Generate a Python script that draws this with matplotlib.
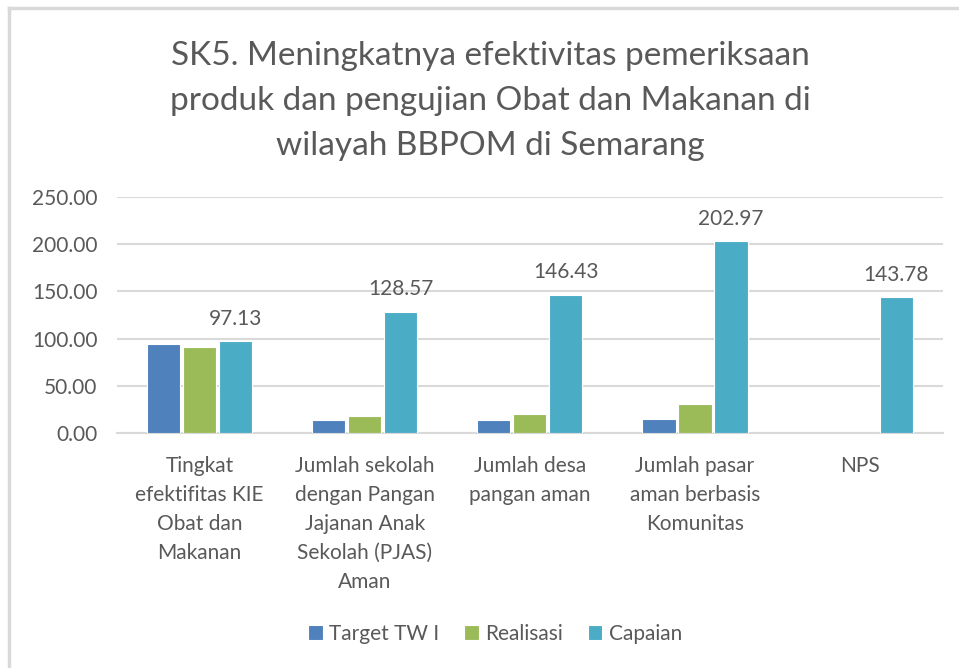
import numpy as np
import matplotlib.pyplot as plt

plt.rcParams['font.family'] = ['Lato', 'DejaVu Sans']

# data
categories = [
    'Tingkat\nefektifitas KIE\nObat dan\nMakanan',
    'Jumlah sekolah\ndengan Pangan\nJajanan Anak\nSekolah (PJAS)\nAman',
    'Jumlah desa\npangan aman',
    'Jumlah pasar\naman berbasis\nKomunitas',
    'NPS',
]
target_tw1 = [94.0, 14.0, 14.0, 15.0, np.nan]
realisasi = [91.3, 18.0, 20.5, 30.45, np.nan]
capaian = [97.13, 128.57, 146.43, 202.97, 143.78]

series_names = ['Target TW I', 'Realisasi', 'Capaian']
colors = ['#4f81bd', '#9bbb59', '#4bacc6']
text_color = '#595959'
grid_color = '#d9d9d9'

fig = plt.figure(figsize=(9.59, 6.68), dpi=100)
ax = fig.add_axes([0.122, 0.352, 0.861, 0.353])

x = np.arange(len(categories))
w = 0.2
step = 0.218
for i, (vals, name, c) in enumerate(zip([target_tw1, realisasi, capaian], series_names, colors)):
    bars = ax.bar(x + (i - 1) * step, vals, w, color=c, edgecolor='white',
                  linewidth=0.8, label=name, zorder=3)
    if name == 'Capaian':
        for b, v in zip(bars, vals):
            ax.annotate(f'{v:.2f}', (b.get_x() + b.get_width() / 2, v),
                        xytext=(0, 9), textcoords='offset points',
                        ha='center', va='bottom', fontsize=15, color=text_color)

ax.set_xlim(-0.5, len(categories) - 0.5)
ax.set_ylim(0, 250)
ax.set_yticks(np.arange(0, 251, 50))
ax.set_yticklabels([f'{t:.2f}' for t in np.arange(0, 251, 50)])
ax.set_xticks(x)
ax.set_xticklabels(categories, fontsize=15, color=text_color, linespacing=1.56, va='top')
ax.tick_params(axis='y', labelsize=15, labelcolor=text_color, length=0, pad=14)
ax.tick_params(axis='x', length=0, pad=17)
ax.yaxis.grid(True, color=grid_color, linewidth=1.5, zorder=0)
for s in ['top', 'right', 'left']:
    ax.spines[s].set_visible(False)
ax.spines['bottom'].set_color(grid_color)
ax.spines['bottom'].set_linewidth(1.5)

fig.text(0.511, 0.849,
         'SK5. Meningkatnya efektivitas pemeriksaan\nproduk dan pengujian Obat dan Makanan di\nwilayah BBPOM di Semarang',
         ha='center', va='center', fontsize=24, color=text_color, linespacing=1.62)

ax.legend(loc='center', bbox_to_anchor=(0.458, -0.852), ncol=3, frameon=False,
          fontsize=15, labelcolor=text_color, handlelength=0.7, handleheight=0.7,
          handletextpad=0.3, columnspacing=1.2)

# chart frame
fig.add_artist(plt.Line2D([0.0095, 0.0095], [0, 0.988], color=grid_color, linewidth=2.5))
fig.add_artist(plt.Line2D([0.0095, 1], [0.988, 0.988], color=grid_color, linewidth=2.5))

fig.savefig('out.png', dpi=100, facecolor='white')
